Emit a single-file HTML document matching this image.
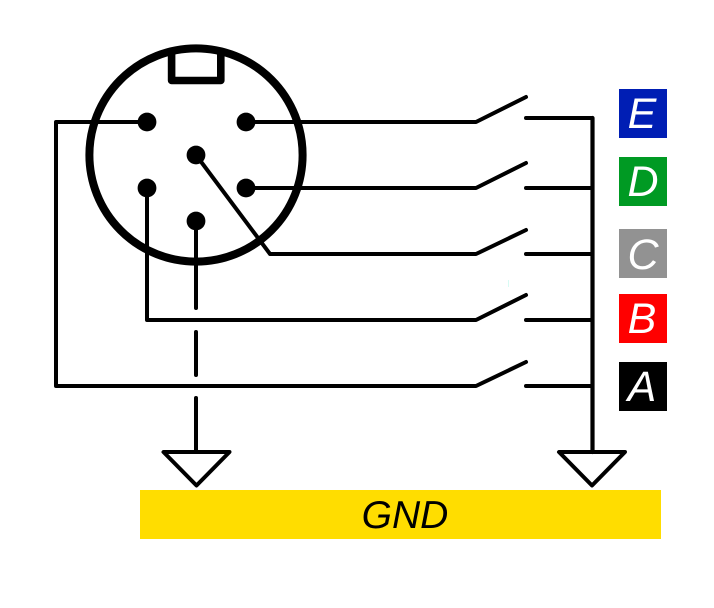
<!DOCTYPE html>
<html>
<head>
<meta charset="utf-8">
<style>
html,body{margin:0;padding:0;background:#fff}
svg{display:block}
text{font-family:"Liberation Sans",sans-serif;font-style:italic}
</style>
</head>
<body>
<svg width="714" height="608" viewBox="0 0 714 608" xmlns="http://www.w3.org/2000/svg">
<rect width="714" height="608" fill="#fff"/>
<rect x="140" y="490" width="521" height="49" fill="#ffdd00"/>
<rect x="619" y="89" width="48" height="49" fill="#001eb4"/>
<rect x="619" y="157" width="48" height="49" fill="#009a23"/>
<rect x="619" y="229" width="48" height="49" fill="#929292"/>
<rect x="619" y="294" width="48" height="49" fill="#ff0000"/>
<rect x="619" y="362" width="48" height="49" fill="#000"/>
<rect x="508" y="280" width="1" height="7" fill="#d8fbf4"/>
<g fill="none" stroke="#000" stroke-linecap="round" stroke-linejoin="round">
<circle cx="196" cy="155" r="106.6" stroke-width="8"/>
<path d="M171.600 53V80.500H220.800V53" stroke-width="7.6"/>
<g stroke-width="4">
<path d="M147 122H56V386H476L526 362"/>
<path d="M246 122H476L526 97"/>
<path d="M246 188H476L526 163"/>
<path d="M196 155L270 254H476L526 230"/>
<path d="M147 188V320H476L526 295"/>
<path d="M196 221V308"/>
<path d="M196 332V375"/>
<path d="M196 398V452"/>
<path d="M526 118H592"/>
<path d="M526 188H592"/>
<path d="M526 254H592"/>
<path d="M526 320H592"/>
<path d="M526 386H592"/>
<path d="M163.500 452H229.500L196.500 485.500Z"/>
<path d="M559 452H625L592 485.500Z"/>
</g>
<path d="M592.500 118V452" stroke-width="4.2"/>
</g>
<g fill="#000">
<circle cx="147" cy="122" r="9.4"/>
<circle cx="246" cy="122" r="9.4"/>
<circle cx="196" cy="155" r="9.4"/>
<circle cx="147" cy="188" r="9.4"/>
<circle cx="246" cy="188" r="9.4"/>
<circle cx="196" cy="221" r="9.4"/>
</g>
<g fill="#fff" font-size="43" text-anchor="middle">
<text x="642" y="128">E</text>
<text x="643" y="196">D</text>
<text x="643" y="269">C</text>
<text x="642" y="333">B</text>
<text x="642" y="401">A</text>
</g>
<text x="405" y="528" font-size="39" text-anchor="middle" fill="#000">GND</text>
</svg>
</body>
</html>
